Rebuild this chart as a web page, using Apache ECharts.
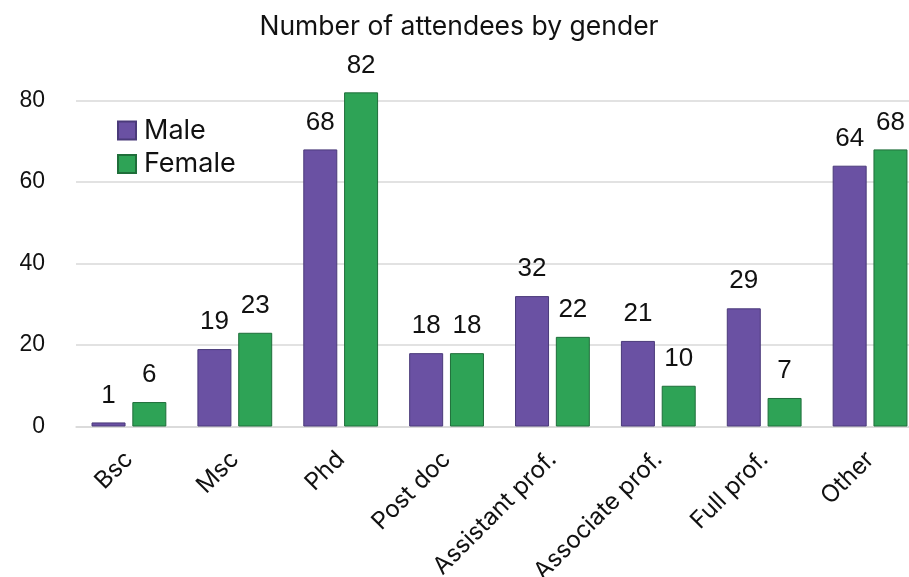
<!DOCTYPE html>
<html>
<head>
<meta charset="utf-8">
<script src="https://cdn.jsdelivr.net/npm/echarts@6/dist/echarts.min.js"></script>
<style>
  html, body { margin: 0; padding: 0; background: #ffffff; overflow: hidden; }
  #chart { width: 940px; height: 577px; }
</style>
</head>
<body>
<div id="chart"></div>
<script>
// Attendees per career stage, split by gender
const categories = ['Bsc', 'Msc', 'Phd', 'Post doc', 'Assistant prof.', 'Associate prof.', 'Full prof.', 'Other'];
const maleValues = [1, 19, 68, 18, 32, 21, 29, 64];
const femaleValues = [6, 23, 82, 18, 22, 10, 7, 68];
const yTicks = [0, 20, 40, 60, 80];

const textFont = 'Inter, "Noto Sans", sans-serif';
const numFont = '"Liberation Sans", Arial, sans-serif';

// the canvas is a little wider than the page; the last category runs to the right edge
const chart = echarts.init(document.getElementById('chart'), null, { renderer: 'canvas' });

const labelStyle = {
  show: true,
  position: 'top',
  distance: 14,
  fontFamily: numFont,
  fontSize: 26,
  color: '#111111'
};

chart.setOption({
  animation: false,
  backgroundColor: '#ffffff',
  title: {
    text: 'Number of attendees by gender',
    left: 454,
    textAlign: 'center',
    top: 9,
    textStyle: { fontFamily: textFont, fontSize: 26.5, fontWeight: 'normal', color: '#111111' }
  },
  legend: {
    orient: 'vertical',
    left: 112,
    top: 112,
    itemWidth: 18,
    itemHeight: 18,
    itemGap: 6.5,
    icon: 'rect',
    textStyle: { fontFamily: textFont, fontSize: 27, color: '#111111', padding: [0, 0, 0, 3] },
    data: ['Male', 'Female']
  },
  grid: {
    left: 76, top: 100.5, width: 847, height: 326,
    containLabel: false,
    outerBoundsMode: 'none'
  },
  xAxis: {
    type: 'category',
    data: categories,
    axisLine: { show: true, lineStyle: { color: '#d9d9d9', width: 1.5 } },
    axisTick: { show: false },
    axisLabel: {
      rotate: 45,
      interval: 0,
      margin: 29,
      fontFamily: textFont,
      fontSize: 24,
      color: '#111111'
    }
  },
  yAxis: {
    type: 'value',
    min: yTicks[0],
    max: yTicks[yTicks.length - 1],
    interval: 20,
    axisLine: { show: false },
    axisTick: { show: false },
    splitLine: { lineStyle: { color: '#d9d9d9', width: 1.5 } },
    axisLabel: { margin: 31, fontFamily: numFont, fontSize: 23, color: '#111111' }
  },
  series: [
    {
      name: 'Male',
      type: 'bar',
      data: maleValues,
      barWidth: 34,
      barGap: '20%',
      clip: false,
      itemStyle: { color: '#6a51a3', borderColor: '#4a3a7a', borderWidth: 1 },
      label: labelStyle
    },
    {
      name: 'Female',
      type: 'bar',
      data: femaleValues,
      barWidth: 34,
      barGap: '20%',
      clip: false,
      itemStyle: { color: '#2ea356', borderColor: '#1f6e3a', borderWidth: 1 },
      label: labelStyle
    }
  ]
});
</script>
</body>
</html>
